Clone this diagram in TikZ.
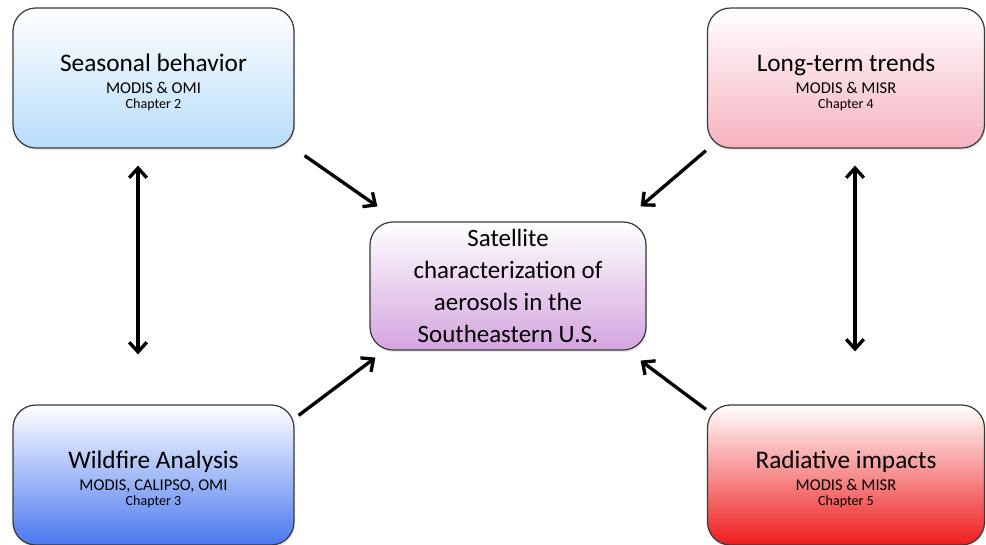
\documentclass[tikz,border=0pt]{standalone}
\usepackage{fontspec}
\setmainfont{Carlito}
\usetikzlibrary{arrows.meta, positioning, shadows}

\definecolor{seasbot}{HTML}{B8DDFA}
\definecolor{longbot}{HTML}{F6B2C0}
\definecolor{wildbot}{HTML}{4A78F0}
\definecolor{radbot}{HTML}{EF1C1C}
\definecolor{cenbot}{HTML}{D4A4DF}
\definecolor{edge}{HTML}{3A3A3A}

\newcommand{\boxtext}[3]{%
  {\fontsize{14.4}{17}\selectfont\rule{0pt}{15pt}#1}\\[0.5pt]
  {\fontsize{9.4}{11}\selectfont #2}\\[-3pt]
  {\fontsize{8}{9.5}\selectfont #3}}

\tikzset{
  chapbox/.style={
    draw=edge,
    line width=0.7pt,
    rectangle,
    rounded corners=13pt,
    minimum width=5.62cm,
    minimum height=2.8cm,
    align=center,
    top color=white,
    drop shadow={opacity=0.2, shadow xshift=0.6pt, shadow yshift=-1.2pt},
  },
  mainbox/.style={
    chapbox,
    minimum width=5.52cm,
    minimum height=2.56cm,
    font=\fontsize{14.2}{18.2}\selectfont,
  },
  link/.style={
    -{Straight Barb[length=5.5pt, width=10pt]},
    line width=1.9pt
  },
  twoway/.style={
    link,
    {Straight Barb[length=5.5pt, width=10pt]}-{Straight Barb[length=5.5pt, width=10pt]}
  }
}

\begin{document}
\begin{tikzpicture}[x=0.02cm, y=-0.02cm]
  \useasboundingbox (0,0) rectangle (986,544);

  % Boites
  \node[chapbox, bottom color=seasbot] (seas) at (153.5,78) {\boxtext{Seasonal behavior}{MODIS \& OMI}{Chapter 2}};
  \node[chapbox, bottom color=longbot, minimum width=5.54cm] (long) at (846,78) {\boxtext{Long-term trends}{MODIS \& MISR}{Chapter 4}};
  \node[chapbox, bottom color=wildbot] (wild) at (153.5,475) {\boxtext{Wildfire Analysis}{MODIS, CALIPSO, OMI}{Chapter 3}};
  \node[chapbox, bottom color=radbot, minimum width=5.54cm] (rad) at (846,475) {\boxtext{Radiative impacts}{MODIS \& MISR}{Chapter 5}};
  \node[mainbox, bottom color=cenbot] (cen) at (508,286) {Satellite\\characterization of\\aerosols in the\\Southeastern U.S.};

  % Fleches vers le centre
  \draw[link] ([shift={(10,7)}]seas.south east) -- ([shift={(8,-15)}]cen.north west);
  \draw[link] ([shift={(-1,2)}]long.south west) -- ([shift={(-6,-15)}]cen.north east);
  \draw[link] ([shift={(4,11)}]wild.north east) -- ([shift={(6,7)}]cen.south west);
  \draw[link] ([shift={(-1,5)}]rad.north west) -- ([shift={(-6,10)}]cen.south east);

  % Fleches doubles
  \draw[twoway] ([shift={(-15.5,17)}]seas.south) -- ([shift={(-15.5,-50)}]wild.north);
  \draw[twoway] ([shift={(9,17)}]long.south) -- ([shift={(9,-53)}]rad.north);

\end{tikzpicture}
\end{document}
